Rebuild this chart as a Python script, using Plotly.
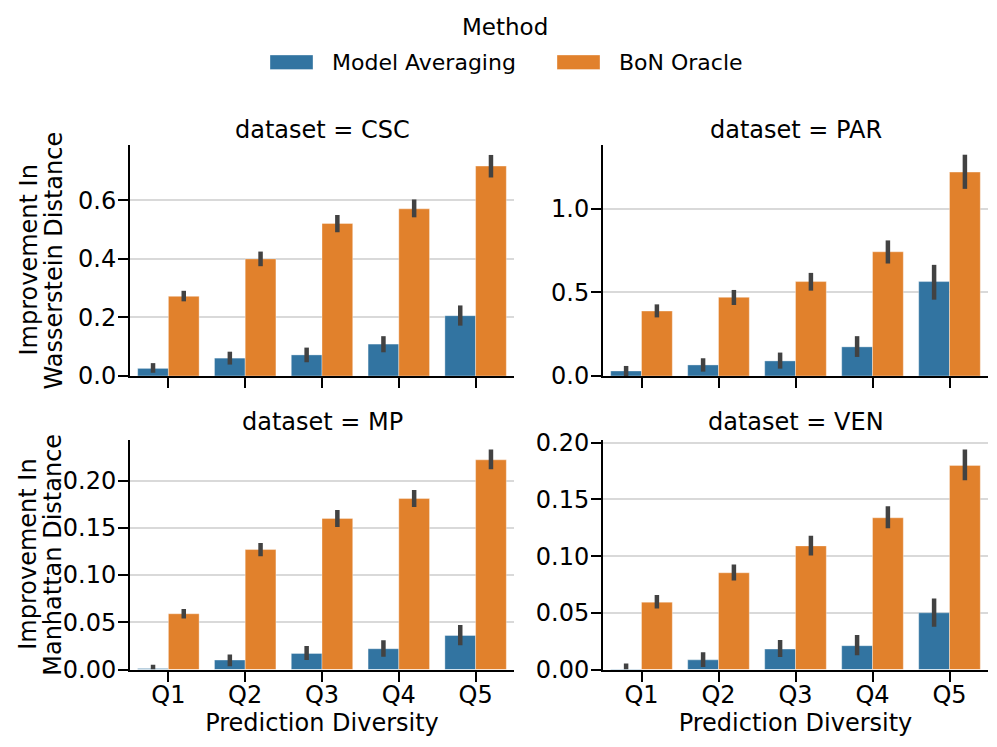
import plotly.graph_objects as go
from plotly.subplots import make_subplots

categories = ["Q1", "Q2", "Q3", "Q4", "Q5"]
methods = ["Model Averaging", "BoN Oracle"]
datasets = ["CSC", "PAR", "MP", "VEN"]

# mean values, lower CI, upper CI
CSC_ma = [0.026, 0.061, 0.072, 0.109, 0.206]
CSC_ma_lo = [0.011, 0.039, 0.047, 0.081, 0.172]
CSC_ma_hi = [0.044, 0.083, 0.097, 0.136, 0.241]
CSC_bon = [0.272, 0.400, 0.521, 0.571, 0.717]
CSC_bon_lo = [0.255, 0.375, 0.491, 0.542, 0.678]
CSC_bon_hi = [0.291, 0.425, 0.550, 0.603, 0.755]

PAR_ma = [0.030, 0.066, 0.090, 0.174, 0.564]
PAR_ma_lo = [0.000, 0.026, 0.044, 0.114, 0.456]
PAR_ma_hi = [0.060, 0.106, 0.140, 0.238, 0.664]
PAR_bon = [0.388, 0.470, 0.564, 0.742, 1.218]
PAR_bon_lo = [0.350, 0.424, 0.510, 0.672, 1.118]
PAR_bon_hi = [0.428, 0.514, 0.616, 0.810, 1.322]

MP_ma = [0.001, 0.010, 0.017, 0.022, 0.036]
MP_ma_lo = [0.000, 0.0035, 0.010, 0.0134, 0.0258]
MP_ma_hi = [0.005, 0.016, 0.025, 0.031, 0.047]
MP_bon = [0.059, 0.127, 0.160, 0.181, 0.222]
MP_bon_lo = [0.054, 0.120, 0.151, 0.172, 0.212]
MP_bon_hi = [0.064, 0.134, 0.169, 0.190, 0.233]

VEN_ma = [0.0005, 0.0085, 0.018, 0.021, 0.050]
VEN_ma_lo = [0.000, 0.0023, 0.011, 0.0126, 0.0376]
VEN_ma_hi = [0.0053, 0.0153, 0.026, 0.0305, 0.0627]
VEN_bon = [0.0594, 0.0853, 0.109, 0.1338, 0.180]
VEN_bon_lo = [0.0538, 0.0785, 0.1006, 0.1245, 0.167]
VEN_bon_hi = [0.0656, 0.0927, 0.118, 0.144, 0.194]

y_title_lines = [["Improvement In", "Wasserstein Distance"], ["Improvement In", "Manhattan Distance"]]
x_title = "Prediction Diversity"

data = {
    "CSC": [(CSC_ma, CSC_ma_lo, CSC_ma_hi), (CSC_bon, CSC_bon_lo, CSC_bon_hi)],
    "PAR": [(PAR_ma, PAR_ma_lo, PAR_ma_hi), (PAR_bon, PAR_bon_lo, PAR_bon_hi)],
    "MP": [(MP_ma, MP_ma_lo, MP_ma_hi), (MP_bon, MP_bon_lo, MP_bon_hi)],
    "VEN": [(VEN_ma, VEN_ma_lo, VEN_ma_hi), (VEN_bon, VEN_bon_lo, VEN_bon_hi)],
}
y_ranges = {"CSC": [0, 0.789], "PAR": [0, 1.38], "MP": [0, 0.243], "VEN": [0, 0.2024]}
y_ticks = {
    "CSC": ([0, 0.2, 0.4, 0.6], ".1f"),
    "PAR": ([0, 0.5, 1.0], ".1f"),
    "MP": ([0, 0.05, 0.10, 0.15, 0.20], ".2f"),
    "VEN": ([0, 0.05, 0.10, 0.15, 0.20], ".2f"),
}

colors = ["#3274a1", "#e1812c"]
ERR = "#424242"
FONT = "DejaVu Sans"
FS = 24
OFF = 8  # page body margin
W, H = 997 - OFF, 747 - OFF


def px(x):
    return (x - OFF) / W


def py(y):
    return 1 - (y - OFF) / H


fig = make_subplots(rows=2, cols=2)

positions = {"CSC": (1, 1), "PAR": (1, 2), "MP": (2, 1), "VEN": (2, 2)}
for ds in datasets:
    r, c = positions[ds]
    for mi, (vals, lo, hi) in enumerate(data[ds]):
        fig.add_trace(go.Bar(
            x=categories, y=vals, name=methods[mi],
            marker=dict(color=colors[mi], line=dict(color="rgba(255,255,255,0.35)", width=1)),
            error_y=dict(type="data", symmetric=False,
                         array=[h - v for h, v in zip(hi, vals)],
                         arrayminus=[v - l for v, l in zip(vals, lo)],
                         color=ERR, thickness=4.5, width=0),
            showlegend=False,
        ), row=r, col=c)

# domains (reference px converted to paper)
xdom = {1: [px(130), px(514)], 2: [px(603), px(988)]}
ydom = {1: [py(376), py(145)], 2: [py(669.5), py(440)]}

for ds in datasets:
    r, c = positions[ds]
    idx = (r - 1) * 2 + c
    xa = "xaxis" if idx == 1 else f"xaxis{idx}"
    ya = "yaxis" if idx == 1 else f"yaxis{idx}"
    tv, fmt = y_ticks[ds]
    fig.layout[xa].update(
        domain=xdom[c], range=[-0.5, 4.5], type="category", automargin=False,
        showline=True, linecolor="black", linewidth=2,
        ticks="outside", ticklen=10, tickwidth=2, tickcolor="black",
        showticklabels=(r == 2), showgrid=False, zeroline=False,
        ticklabelstandoff=-7,
        tickfont=dict(family=FONT, size=FS, color="black"),
        title=dict(text=x_title if r == 2 else "", font=dict(family=FONT, size=FS, color="black"), standoff=2),
    )
    fig.layout[ya].update(
        domain=ydom[r], range=y_ranges[ds], tickvals=tv, tickformat=fmt, automargin=False,
        showline=True, linecolor="black", linewidth=2,
        ticks="outside", ticklen=10, tickwidth=2, tickcolor="black",
        showgrid=True, gridcolor="#d9d9d9", gridwidth=2, zeroline=False,
        ticklabelstandoff=-3,
        tickfont=dict(family=FONT, size=FS, color="black"),
    )
    # panel title
    fig.add_annotation(
        x=(xdom[c][0] + xdom[c][1]) / 2, y=py(130 if r == 1 else 422),
        xref="paper", yref="paper", text=f"dataset = {ds}", showarrow=False,
        xanchor="center", yanchor="middle", font=dict(family=FONT, size=FS, color="black"),
    )

# y-axis titles (left column), one annotation per line
for r, lines in zip([1, 2], y_title_lines):
    for xc, line in zip([28, 53], lines):
        fig.add_annotation(
            x=px(xc), y=(ydom[r][0] + ydom[r][1]) / 2, xref="paper", yref="paper",
            text=line, textangle=-90, showarrow=False, xanchor="center", yanchor="middle",
            font=dict(family=FONT, size=FS, color="black"),
        )

# legend (drawn manually)
fig.add_annotation(x=px(505), y=py(27.5), xref="paper", yref="paper", text="Method",
                   showarrow=False, xanchor="center", yanchor="middle",
                   font=dict(family=FONT, size=23, color="black"))
leg = [(270, 313, 330, methods[0], colors[0]), (557, 600, 617, methods[1], colors[1])]
for x0, x1, tx, label, col in leg:
    fig.add_shape(type="rect", xref="paper", yref="paper",
                  x0=px(x0), x1=px(x1), y0=py(69.5), y1=py(55),
                  fillcolor=col, line=dict(color="rgba(255,255,255,0.35)", width=1))
    fig.add_annotation(x=px(tx), y=py(62), xref="paper", yref="paper", text=label,
                       showarrow=False, xanchor="left", yanchor="middle",
                       font=dict(family=FONT, size=22, color="black"))

fig.update_layout(
    width=W, height=H, barmode="group", bargap=0.2, bargroupgap=0,
    margin=dict(l=0, r=0, t=0, b=0, autoexpand=False),
    plot_bgcolor="white", paper_bgcolor="white",
    font=dict(family=FONT, size=FS, color="black"),
    showlegend=False,
)

fig.write_html("out.html")
